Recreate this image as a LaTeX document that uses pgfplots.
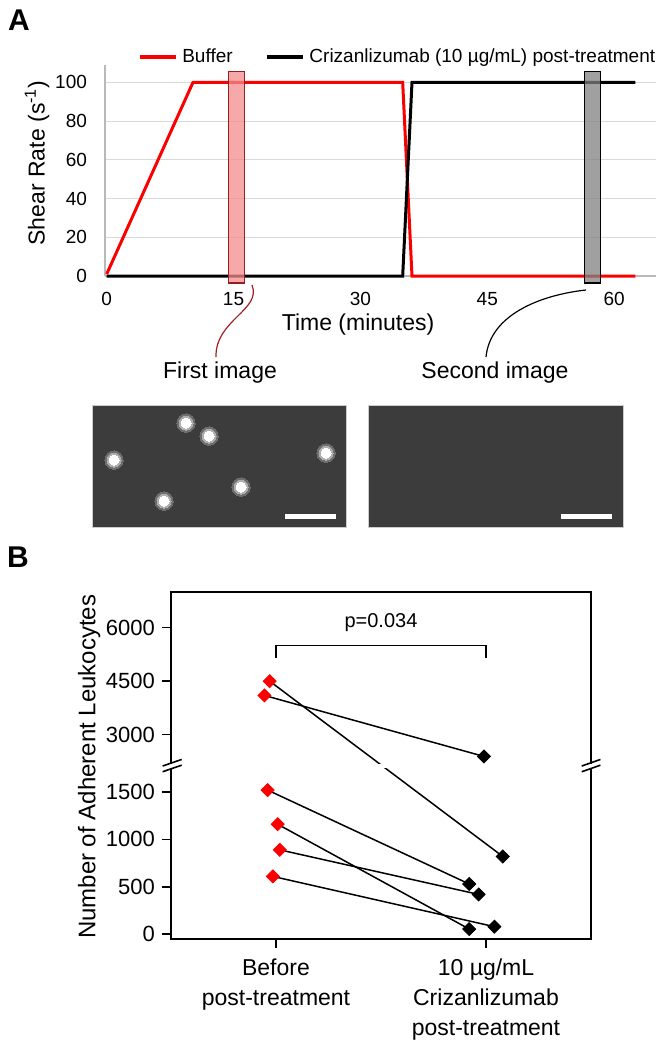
\documentclass[border=0pt]{standalone}
\usepackage{fontspec}
\setmainfont{Liberation Sans}
\usepackage{pgfplots}
\usepackage{pgfplotstable}
\pgfplotsset{compat=1.18}
\definecolor{cred}{RGB}{250,0,0}
\definecolor{boxred}{RGB}{244,140,140}
\definecolor{boxredborder}{RGB}{150,30,30}
\definecolor{gridc}{RGB}{217,217,217}
\definecolor{micro}{RGB}{60,60,60}
\definecolor{connred}{RGB}{160,30,40}
\definecolor{halo1}{RGB}{110,110,110}
\definecolor{halo2}{RGB}{175,175,175}
\newcommand{\fs}[2]{\fontsize{#1}{#2}\selectfont}
\pgfplotstableread{
x y
94 104
117 91
22 67
234 74
149 40
72 26
}\cells
\begin{document}
\begin{tikzpicture}
\path[use as bounding box] (0,0) rectangle (331.5pt,-525pt);
\node[font=\bfseries\fs{15}{18}] at (9.5pt,-10pt) {A};
\node[font=\bfseries\fs{15}{18}] at (9pt,-278.5pt) {B};

% ---------------- Panel A ----------------
\begin{axis}[
  at={(52.5pt,-138pt)}, anchor=south west,
  scale only axis, width=275.7pt, height=105.5pt,
  xmin=-0.2, xmax=65, ymin=0, ymax=109,
  clip=false,
  axis x line*=bottom, axis y line*=left,
  axis line style={-, draw=gray!55, line width=0.6pt},
  xtick={0,15,30,45,60}, ytick={0,20,...,100},
  major tick length=0pt,
  ymajorgrids, grid style={gridc, line width=0.6pt},
  tick label style={font=\fs{9.5}{11}},
  /pgf/number format/assume math mode=true,
  xticklabel style={yshift=-4.5pt},
  yticklabel style={xshift=-5.5pt},
  xlabel={Time (minutes)}, ylabel={Shear Rate (s\textsuperscript{-1})},
  label style={font=\fs{11.5}{13}},
  xlabel style={at={(axis description cs:0.459,-0.232)}, anchor=center},
  ylabel style={at={(axis description cs:-0.123,0.536)}, anchor=center},
  legend style={at={(axis description cs:0.532,1.038)}, anchor=center, draw=none, fill=none,
    font=\fs{9.5}{11}, legend columns=2, inner sep=0pt,
    /tikz/every even column/.append style={column sep=14pt}},
  legend image code/.code={\draw[#1, line width=2.4pt] (0pt,0pt) -- (18pt,0pt);},
]
\addplot[cred, line width=1.5pt] coordinates {(0,1) (10.2,100) (35,100) (36.1,0) (62.5,0)};
\addlegendentry{Buffer}
\addplot[black, line width=1.5pt] coordinates {(0,0) (35,0) (36.1,100) (62.5,100)};
\addlegendentry{Crizanlizumab (10 µg/mL) post-treatment}
\addplot[forget plot, fill=boxred, fill opacity=0.75, draw=boxredborder, line width=0.6pt]
  coordinates {(14.4,-3.6) (16.3,-3.6) (16.3,105.7) (14.4,105.7)} -- cycle;
\addplot[forget plot, fill=gray, fill opacity=0.75, draw=black, line width=0.6pt]
  coordinates {(56.5,-3.6) (58.4,-3.6) (58.4,105.7) (56.5,105.7)} -- cycle;
\end{axis}

% connectors
\draw[connred, line width=0.6pt] (126pt,-142.5pt) .. controls (131pt,-155pt) and (107.5pt,-160pt) .. (108pt,-178.5pt);
\draw[black, line width=0.6pt] (293pt,-145pt) .. controls (270pt,-147.5pt) and (245pt,-157.5pt) .. (243pt,-178.5pt);

\node[font=\fs{11.5}{13}] at (110pt,-186.5pt) {First image};
\node[font=\fs{11.5}{13}] at (247.5pt,-186.5pt) {Second image};

% micrographs
\fill[micro] (46pt,-202.5pt) rectangle (173pt,-263.5pt);
\draw[gray!40, line width=0.5pt] (46pt,-202.5pt) rectangle (173pt,-263.5pt);
\fill[micro] (184pt,-202.5pt) rectangle (311.5pt,-263.5pt);
\draw[gray!40, line width=0.5pt] (184pt,-202.5pt) rectangle (311.5pt,-263.5pt);

\begin{axis}[at={(46pt,-263.5pt)}, anchor=south west, scale only axis, width=127pt, height=61pt,
  xmin=0, xmax=254, ymin=0, ymax=122, hide axis]
\addplot[only marks, color=halo1, mark=*, mark size=4.6pt, mark options={solid, color=halo1, line width=0pt}] table {\cells};
\addplot[only marks, color=halo2, mark=*, mark size=3.5pt, mark options={solid, color=halo2, line width=0pt}] table {\cells};
\addplot[only marks, color=white, mark=*, mark size=2.5pt, mark options={solid, color=white, line width=0pt}] table {\cells};
\addplot[white, line width=2.5pt] coordinates {(193,11) (244,11)};
\end{axis}

\begin{axis}[at={(184pt,-263.5pt)}, anchor=south west, scale only axis, width=127.5pt, height=61pt,
  xmin=0, xmax=255, ymin=0, ymax=122, hide axis]
\addplot[white, line width=2.5pt] coordinates {(193,11) (244,11)};
\end{axis}

% ---------------- Panel B ----------------
\begin{axis}[
  at={(85.5pt,-469.5pt)}, anchor=south west,
  scale only axis, width=210pt, height=173.5pt,
  xmin=-0.5, xmax=1.5, ymin=-50, ymax=7000,
  y coord trafo/.code={\pgfmathparse{#1<1900 ? #1 : 1747+(#1-2050)*0.376}},
  y coord inv trafo/.code={\pgfmathparse{#1<1800 ? #1 : 2050+(#1-1747)/0.376}},
  xtick={0,1},
  xticklabels={{Before\\post-treatment},{10 µg/mL\\Crizanlizumab\\post-treatment}},
  ytick={0,500,1000,1500,3000,4500,6000},
  yticklabels={0,500,1000,1500,3000,4500,6000},
  tick pos=left,
  tick align=outside, major tick length=4.5pt,
  axis line style={line width=0.8pt},
  every tick/.style={black, line width=0.8pt},
  yticklabel style={font=\fs{11}{12}},
  xticklabel style={font=\fs{11.5}{15}, align=center, yshift=-2pt},
  ylabel={Number of Adherent Leukocytes},
  ylabel style={font=\fs{12}{14}, at={(axis description cs:-0.195,0.496)}, anchor=center},
  clip=false,
]
\addplot[black, line width=0.75pt] coordinates {(-0.03,4500) (1.08,820)};
\addplot[black, line width=0.75pt] coordinates {(-0.055,4100) (0.99,2390)};
\addplot[black, line width=0.75pt] coordinates {(-0.04,1520) (0.92,530)};
\addplot[black, line width=0.75pt] coordinates {(0.008,1160) (0.92,55)};
\addplot[black, line width=0.75pt] coordinates {(0.018,890) (0.965,420)};
\addplot[black, line width=0.75pt] coordinates {(-0.015,610) (1.04,80)};
% axis break
\fill[white] (axis description cs:-0.01,0.492) rectangle (axis description cs:1.01,0.504);
\draw[line width=0.8pt] (axis description cs:-0.02,0.482) -- (axis description cs:0.0255,0.501);
\draw[line width=0.8pt] (axis description cs:-0.02,0.4985) -- (axis description cs:0.0255,0.5175);
\draw[line width=0.8pt] (axis description cs:0.978,0.482) -- (axis description cs:1.0225,0.501);
\draw[line width=0.8pt] (axis description cs:0.978,0.4985) -- (axis description cs:1.0225,0.5175);
% markers
\addplot[only marks, mark=square*, mark size=2.3pt, mark options={rotate=45, fill=cred, draw=cred}]
  coordinates {(-0.03,4500) (-0.055,4100) (-0.04,1520) (0.008,1160) (0.018,890) (-0.015,610)};
\addplot[only marks, mark=square*, mark size=2.3pt, mark options={rotate=45, fill=black, draw=black}]
  coordinates {(1.08,820) (0.99,2390) (0.92,530) (0.92,55) (0.965,420) (1.04,80)};
% significance bracket
\addplot[black, line width=0.8pt] coordinates {(0,5150) (0,5500) (1,5500) (1,5150)};
\node[font=\fs{10}{12}] at (axis description cs:0.5,0.911) {p=0.034};
\end{axis}
\end{tikzpicture}
\end{document}
